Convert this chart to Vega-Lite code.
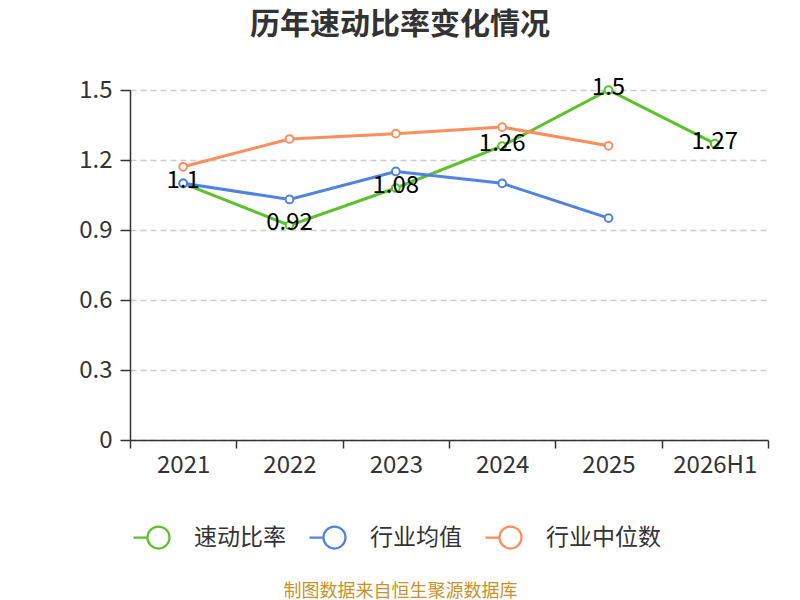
{
  "$schema": "https://vega.github.io/schema/vega-lite/v6.json",
  "width": 638,
  "height": 350,
  "autosize": {"type": "none"},
  "padding": {"left": 130, "top": 90, "right": 32, "bottom": 160},
  "background": "white",
  "config": {"view": {"stroke": null}, "font": "Noto Sans CJK SC"},
  "title": {"text": "历年速动比率变化情况", "fontSize": 30, "fontWeight": "bold", "color": "#333333", "font": "Noto Sans CJK SC", "anchor": "middle", "dx": -49, "offset": 36},
  "data": {"values": [
    {"year": "2021", "series": "速动比率", "value": 1.1},
    {"year": "2022", "series": "速动比率", "value": 0.92},
    {"year": "2023", "series": "速动比率", "value": 1.08},
    {"year": "2024", "series": "速动比率", "value": 1.26},
    {"year": "2025", "series": "速动比率", "value": 1.5},
    {"year": "2026H1", "series": "速动比率", "value": 1.27},
    {"year": "2021", "series": "行业均值", "value": 1.1},
    {"year": "2022", "series": "行业均值", "value": 1.031},
    {"year": "2023", "series": "行业均值", "value": 1.151},
    {"year": "2024", "series": "行业均值", "value": 1.1},
    {"year": "2025", "series": "行业均值", "value": 0.951},
    {"year": "2021", "series": "行业中位数", "value": 1.171},
    {"year": "2022", "series": "行业中位数", "value": 1.29},
    {"year": "2023", "series": "行业中位数", "value": 1.313},
    {"year": "2024", "series": "行业中位数", "value": 1.341},
    {"year": "2025", "series": "行业中位数", "value": 1.261}
  ]},
  "encoding": {
    "x": {
      "field": "year", "type": "ordinal",
      "scale": {"type": "band", "paddingInner": 0, "paddingOuter": 0},
      "axis": {
        "title": "制图数据来自恒生聚源数据库", "titleColor": "#c8922a", "titleFontSize": 18, "titleFontWeight": "normal", "titleFont": "Noto Sans CJK SC", "titlePadding": 105, "titleX": 270,
        "labelAngle": 0, "labelFontSize": 24, "labelColor": "#333333", "labelPadding": 5,
        "tickBand": "extent", "tickSize": 8, "tickColor": "#333333", "tickWidth": 1.5,
        "domainColor": "#333333", "domainWidth": 1.5, "grid": false
      }
    },
    "y": {
      "field": "value", "type": "quantitative",
      "scale": {"domain": [0, 1.5], "nice": false},
      "axis": {
        "title": null, "values": [0, 0.3, 0.6, 0.9, 1.2, 1.5], "format": "~g",
        "labelFontSize": 24, "labelColor": "#333333", "labelPadding": 8,
        "tickSize": 10, "tickColor": "#333333", "tickWidth": 1.5,
        "domain": true, "domainColor": "#333333", "domainWidth": 1.5,
        "grid": true, "gridDash": [6, 4], "gridColor": "#cccccc", "gridWidth": 1.5
      }
    },
    "color": {
      "field": "series", "type": "nominal",
      "scale": {"domain": ["速动比率", "行业均值", "行业中位数"], "range": ["#5bc22c", "#4f82e4", "#fe8d5b"]},
      "legend": {
        "orient": "none", "legendX": 2, "legendY": 421, "direction": "horizontal", "title": null,
        "symbolType": "M-1,0L-0.44,0M0.44,0A0.44,0.44,0,1,1,-0.44,0A0.44,0.44,0,1,1,0.44,0",
        "symbolSize": 2500, "symbolStrokeWidth": 2.2, "symbolFillColor": "white",
        "labelFontSize": 23, "labelColor": "#333333", "labelOffset": 9, "columnPadding": 19, "labelFont": "Noto Sans CJK SC"
      }
    }
  },
  "layer": [
    {"mark": {"type": "line", "strokeWidth": 3}},
    {"mark": {"type": "point", "filled": false, "fill": "white", "size": 60, "strokeWidth": 2, "opacity": 1}},
    {
      "transform": [{"filter": "datum.series == '速动比率'"}],
      "mark": {"type": "text", "fontSize": 24, "baseline": "middle", "dy": -2, "color": "#000000"},
      "encoding": {"text": {"field": "value", "type": "quantitative", "format": "~g"}, "color": {"value": "#000000"}}
    }
  ]
}
